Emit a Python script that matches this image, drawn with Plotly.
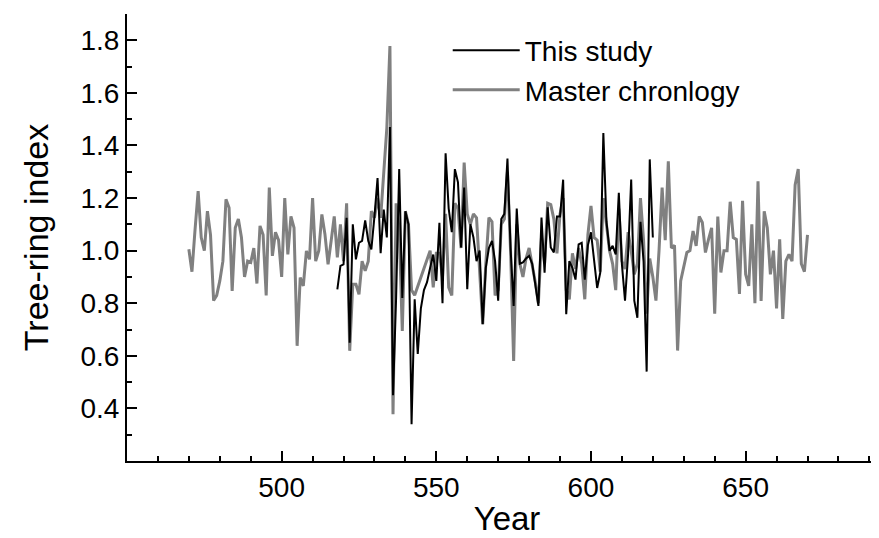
import plotly.graph_objects as go

# Master chronology (grey)
master_years = [470,471,472,473,474,475,476,477,478,479,480,481,482,483,484,485,486,487,488,489,
                490,491,492,493,494,495,496,497,498,499,500,501,502,503,504,505,506,507,508,509,
                510,511,512,513,514,515,516,517,518,519,520,521,522,523,524,525,526,527,528,529,
                530,531,532,533,534,535,536,537,538,539,540,541,542,543,548,549,550,551,552,553,
                554,555,556,557,558,559,560,561,562,563,564,565,566,567,568,569,570,571,572,573,
                574,575,576,577,578,579,580,581,582,583,584,585,586,587,588,589,590,591,592,593,
                594,595,596,597,598,599,600,601,602,603,604,605,606,607,608,609,610,611,612,613,
                614,615,616,617,618,619,620,621,622,623,624,625,626,627,628,629,630,631,632,633,
                634,635,636,637,638,639,640,641,642,643,644,645,646,647,648,649,650,651,652,653,
                654,655,656,657,658,659,660,661,662,663,664,665,666,667,668,669,670]
master_index = [1.005,0.92,1.08,1.226,1.05,1.00,1.15,1.06,0.81,0.83,0.885,0.96,1.195,1.163,0.847,1.087,1.12,1.05,0.90,0.96,
                0.955,1.01,0.875,1.094,1.06,0.83,1.24,0.98,1.07,1.04,0.90,1.20,0.986,1.13,1.087,0.638,0.898,0.866,0.999,0.967,
                1.20,0.96,1.00,1.138,1.062,0.948,1.037,1.13,0.974,1.10,0.96,1.18,0.619,0.872,0.872,0.834,0.96,0.923,0.96,1.15,
                1.125,1.20,1.125,1.30,1.466,1.778,0.378,1.18,1.08,0.695,1.15,1.10,0.85,0.83,1.00,0.86,0.99,0.99,0.90,1.14,
                0.86,0.83,1.18,1.16,1.01,1.335,1.14,1.10,1.14,1.125,0.91,0.72,0.95,1.126,1.11,0.83,0.85,1.10,1.12,1.30,
                1.00,0.58,1.10,0.95,0.90,0.97,1.01,0.95,0.88,0.80,1.05,0.95,1.18,1.175,1.12,0.99,1.14,1.20,0.85,0.815,
                0.99,0.93,1.01,0.95,0.815,1.06,1.17,1.05,1.04,0.92,1.20,1.10,1.00,0.95,0.85,1.16,0.96,0.93,1.07,1.00,
                0.91,0.95,1.20,1.04,0.76,0.97,0.90,0.81,1.00,1.24,1.04,1.34,1.01,1.02,0.62,0.885,0.936,0.993,1.00,1.075,
                1.018,1.13,1.107,0.993,1.043,1.087,0.76,1.13,0.917,1.00,1.00,1.186,1.05,1.043,0.835,1.19,0.91,0.866,1.10,0.80,
                1.264,0.809,1.15,1.087,0.91,1.00,0.78,1.043,0.74,0.96,0.986,0.96,1.25,1.31,0.95,0.92,1.06]

# This study (black)
study_years = list(range(518, 621))
study_index = [0.853,0.942,0.948,1.125,0.65,1.10,0.967,1.03,1.037,1.115,
               1.037,1.005,1.13,1.276,0.99,1.156,1.05,1.47,0.45,0.82,
               1.31,0.82,1.15,1.10,0.34,0.815,0.607,0.78,0.85,0.88,
               0.935,0.985,0.885,1.106,0.80,1.37,1.16,1.07,1.31,1.26,
               1.012,1.24,0.853,1.10,1.05,0.96,1.00,0.72,0.935,1.01,
               1.037,0.96,0.81,1.12,1.14,1.35,1.01,0.79,1.16,0.95,
               0.955,0.97,0.98,0.95,0.872,0.79,1.126,0.916,1.165,1.012,
               0.993,1.13,1.13,1.27,0.758,0.96,0.935,0.89,1.024,1.03,
               0.89,1.02,1.07,0.95,0.858,0.916,1.447,1.11,1.00,1.018,
               0.986,1.22,0.948,0.81,0.986,1.27,0.81,0.745,1.11,0.96,
               0.54,1.347,1.05]

x_ticks = [500, 550, 600, 650]
y_ticks = [0.4, 0.6, 0.8, 1.0, 1.2, 1.4, 1.6, 1.8]
y_tick_text = ["0.4", "0.6", "0.8", "1.0", "1.2", "1.4", "1.6", "1.8"]

FONT = "Liberation Sans, Arial, sans-serif"

fig = go.Figure()
fig.add_trace(go.Scatter(x=master_years, y=master_index, mode="lines",
                         name="Master chronlogy", line=dict(color="#808080", width=3),
                         legendrank=2))
fig.add_trace(go.Scatter(x=study_years, y=study_index, mode="lines",
                         name="This study", line=dict(color="#000000", width=2),
                         legendrank=1))

fig.update_layout(
    width=879, height=538,
    margin=dict(l=119, r=0, t=6, b=85),
    paper_bgcolor="white", plot_bgcolor="white",
    font=dict(family=FONT, size=28, color="black"),
    showlegend=True,
    legend=dict(x=0.422, y=0.974, xanchor="left", yanchor="top",
                bgcolor="rgba(0,0,0,0)", font=dict(size=28, family=FONT),
                itemwidth=67, tracegroupgap=0),
)
fig.update_xaxes(
    range=[450, 695.7], showgrid=False, zeroline=False, automargin=False,
    showline=True, linecolor="black", linewidth=2,
    ticks="inside", ticklen=10, tickwidth=1.5, tickcolor="black",
    tickvals=x_ticks, tickfont=dict(size=28, family=FONT),
    minor=dict(ticks="inside", ticklen=5, tickwidth=1.5, tickcolor="black", tick0=450, dtick=10),
    title=dict(text="Year", font=dict(size=33, family=FONT), standoff=5),
)
fig.update_yaxes(
    range=[0.2, 1.9], showgrid=False, zeroline=False, automargin=False,
    showline=True, linecolor="black", linewidth=2,
    ticks="inside", ticklen=10, tickwidth=1.5, tickcolor="black",
    tickvals=y_ticks, ticktext=y_tick_text, tickfont=dict(size=28, family=FONT),
    minor=dict(ticks="inside", ticklen=5, tickwidth=1.5, tickcolor="black", tick0=0.2, dtick=0.1),
    title=dict(text="Tree-ring index", font=dict(size=34, family=FONT), standoff=22),
)

fig.write_html("out.html")
